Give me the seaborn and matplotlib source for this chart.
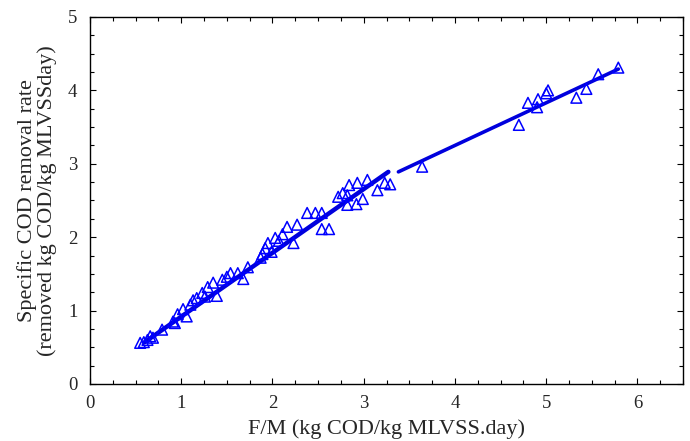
import numpy as np
import pandas as pd
import matplotlib
matplotlib.use("Agg")
import matplotlib.pyplot as plt
from matplotlib.ticker import MultipleLocator
import seaborn as sns

# Observed data (F/M vs specific COD removal rate)
fm = [0.55, 0.59, 0.63, 0.66, 0.69, 0.79, 0.91, 0.93, 0.96, 1.02, 1.06, 1.10, 1.13,
      1.17, 1.23, 1.26, 1.29, 1.35, 1.39, 1.45, 1.50, 1.54, 1.62, 1.68, 1.73, 1.87,
      1.89, 1.92, 1.95, 1.99, 2.03, 2.07, 2.11, 2.16, 2.23, 2.27, 2.38, 2.47, 2.54,
      2.54, 2.62, 2.72, 2.77, 2.82, 2.84, 2.93, 2.82, 2.92, 2.99, 3.04, 3.15, 3.23,
      3.29, 3.64, 4.70, 4.80, 4.90, 4.91, 5.00, 5.02, 5.33, 5.44, 5.57, 5.79]
rate = [0.56, 0.57, 0.60, 0.65, 0.63, 0.74, 0.85, 0.83, 0.95, 1.02, 0.92, 1.08, 1.14,
        1.17, 1.24, 1.19, 1.32, 1.38, 1.20, 1.42, 1.46, 1.51, 1.51, 1.43, 1.59, 1.72,
        1.77, 1.85, 1.92, 1.80, 1.99, 1.95, 2.04, 2.14, 1.92, 2.17, 2.33, 2.33, 2.33,
        2.11, 2.11, 2.55, 2.60, 2.57, 2.71, 2.74, 2.44, 2.45, 2.52, 2.78, 2.64, 2.74,
        2.72, 2.96, 3.53, 3.83, 3.77, 3.88, 3.96, 4.00, 3.90, 4.02, 4.22, 4.31]

# Fitted model line (two segments)
fit1_x = [0.60, 3.27]
fit1_y = [0.57, 2.89]
fit2_x = [3.38, 5.79]
fit2_y = [2.89, 4.29]

sns.set_theme(style="white")
plt.rcParams['font.family'] = ['Liberation Serif', 'DejaVu Serif']

fig = plt.figure(figsize=(6.9, 4.41), dpi=100)
ax = fig.add_axes([0.1304, 0.1293, 0.8596, 0.8322])

blue = "#0000ff"
df = pd.DataFrame({"fm": fm, "rate": rate})
sns.lineplot(x=fit1_x, y=fit1_y, ax=ax, color="#0000dd", lw=3.2)
sns.lineplot(x=fit2_x, y=fit2_y, ax=ax, color="#0000dd", lw=2.6)
sns.scatterplot(data=df, x="fm", y="rate", ax=ax, marker="^", s=60,
                facecolor="none", edgecolor=blue, linewidth=1.1, zorder=3)

ax.set_xlim(0, 6.5)
ax.set_ylim(0, 5)
ax.xaxis.set_major_locator(MultipleLocator(1))
ax.xaxis.set_minor_locator(MultipleLocator(0.25))
ax.yaxis.set_major_locator(MultipleLocator(1))
ax.yaxis.set_minor_locator(MultipleLocator(0.25))
ax.tick_params(which="both", direction="in", top=True, right=True,
               bottom=True, left=True, color="black", width=0.8)
ax.tick_params(which="major", length=4, labelsize=13.5)
ax.tick_params(axis="x", which="major", pad=8)
ax.tick_params(axis="y", which="major", pad=9)
ax.tick_params(which="minor", length=3)
for sp in ax.spines.values():
    sp.set_color("black")
    sp.set_linewidth(1.0)

ax.set_xlabel("F/M (kg COD/kg MLVSS.day)", fontsize=16, labelpad=5)
ax.set_ylabel("Specific COD removal rate\n(removed kg COD/kg MLVSSday)",
              fontsize=16, labelpad=8, linespacing=1.0)

fig.savefig("out.png", dpi=100)
